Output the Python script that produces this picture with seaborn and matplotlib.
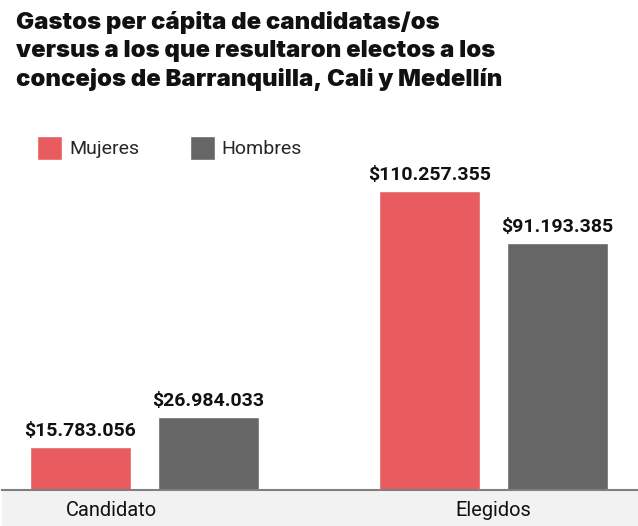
import matplotlib
matplotlib.use("Agg")
import matplotlib.pyplot as plt
import matplotlib.transforms as mtransforms
from matplotlib.patches import Patch, Rectangle
import pandas as pd
import seaborn as sns

# data
grupos = ["Candidato", "Candidato", "Elegidos", "Elegidos"]
generos = ["Mujeres", "Hombres", "Mujeres", "Hombres"]
valores = [15783056, 26984033, 110257355, 91193385]
etiquetas = ["$15.783.056", "$26.984.033", "$110.257.355", "$91.193.385"]

colores = {"Mujeres": "#E85C5F", "Hombres": "#666666"}
titulo = ("Gastos per cápita de candidatas/os\n"
          "versus a los que resultaron electos a los\n"
          "concejos de Barranquilla, Cali y Medellín")

df = pd.DataFrame({"grupo": grupos, "genero": generos, "valor": valores})

sns.set_theme(style="white")
plt.rcParams["font.family"] = ["Roboto", "DejaVu Sans"]

W, H = 638, 526
fig = plt.figure(figsize=(W / 100, H / 100), dpi=100)

# grey band under the baseline
fig.patches.append(Rectangle((2 / W, 1 / H), 635 / W, 35 / H,
                             transform=fig.transFigure, color="#F2F2F2", zorder=-5))

ax = fig.add_axes([2 / W, 36 / H, 635 / W, 370 / H])
ax.patch.set_alpha(0)

sns.barplot(data=df, x="grupo", y="valor", hue="genero", palette=colores,
            width=0.733, gap=0.21, legend=False, ax=ax, saturation=1)

ax.set_xlim(-0.408, 1.411)
ax.set_ylim(0, 370 / 299 * 110257355)
ax.set_xlabel("")
ax.set_ylabel("")
ax.set_yticks([])
for s in ["left", "right", "top"]:
    ax.spines[s].set_visible(False)
ax.spines["bottom"].set_color("#808080")
ax.spines["bottom"].set_linewidth(1.5)
ax.tick_params(axis="x", length=0, pad=8, labelsize=14.4, labelcolor="#111111")

# the "Candidato" label sits left of its group centre in the original
lbl = ax.get_xticklabels()[0]
lbl.set_transform(lbl.get_transform() +
                  mtransforms.ScaledTranslation(-32.5 / 100, 0, fig.dpi_scale_trans))

# value labels above each bar
for cont in ax.containers:
    for bar in cont:
        v = bar.get_height()
        i = valores.index(v)
        ax.annotate(etiquetas[i], (bar.get_x() + bar.get_width() / 2, v),
                    xytext=(0, 5), textcoords="offset points", ha="center", va="bottom",
                    fontsize=14, fontweight="bold", color="#111111")

fig.text(16 / W, 1 - 11 / H, titulo, ha="left", va="top", fontsize=17.2,
         fontweight="black", color="#111111", linespacing=1.33,
         family=["Inter", "Roboto", "DejaVu Sans"])

handles = [Patch(facecolor=colores[g], label=g) for g in ["Mujeres", "Hombres"]]
fig.legend(handles=handles, loc="center left", bbox_to_anchor=(37 / W, 1 - 148 / H),
           ncol=2, frameon=False, fontsize=14, handlelength=1.29, handleheight=1.6,
           handletextpad=0.35, columnspacing=2.6, borderpad=0, borderaxespad=0)

fig.savefig("out.png", dpi=100)
